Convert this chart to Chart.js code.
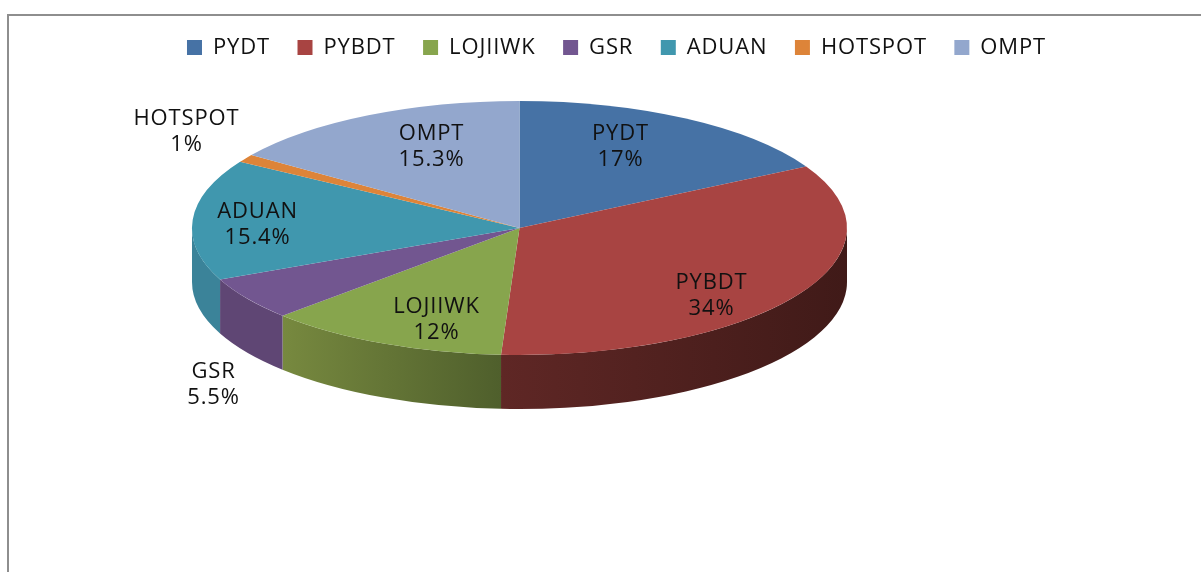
<!DOCTYPE html>
<html>
<head>
<meta charset="utf-8">
<script src="https://cdn.jsdelivr.net/npm/chart.js@4"></script>
<style>
html, body { margin: 0; padding: 0; background: #fff; overflow: hidden; }
#frame { position: absolute; left: 7px; top: 14px; width: 1194px; height: 558px; border-left: 2px solid #8e8e8e; border-top: 2px solid #8e8e8e; box-sizing: border-box; }
#pie { position: absolute; left: 0; top: 0; }
</style>
</head>
<body>
<div id="frame"></div>
<canvas id="pie" width="1201" height="572"></canvas>
<script>
const categories = ['PYDT', 'PYBDT', 'LOJIIWK', 'GSR', 'ADUAN', 'HOTSPOT', 'OMPT']
const shares = [17, 34, 12, 5.5, 15.4, 1, 15.3]

const topColors = ['#4672a5', '#a84442', '#87a54d', '#725690', '#4097ae', '#dd8439', '#93a7cd']
// left and right end of the side wall gradient
const wallColors = [
    ['#345579', '#2a4563'],
    ['#5f2725', '#401a18'],
    ['#77893f', '#4f5f2c'],
    ['#5f4674', '#5f4674'],
    ['#3b8399', '#3b8399'],
    ['#a8642b', '#a8642b'],
    ['#7080a0', '#7080a0']
]
// label centres, relative to the pie centre
const labelOffsets = [[101, -81], [192, 68], [-83, 92], [-306, 157], [-262, -3], [-333, -96], [-88, -81]]

const FONT = '"Open Sans", sans-serif'
const FONT_SIZE = 22
const pieX = 519.5
const pieY = 228
const flatten = 127 / 327.5
const depth = 54

const tilted_pie = {
    id: 'tiltedPie',
    beforeUpdate(chart) {
        // the text in the picture is stretched sideways
        chart.ctx.letterSpacing = '0.85px'
    },
    beforeDatasetsDraw(chart) {
        const ctx = chart.ctx
        const arcs = chart.getDatasetMeta(0).data
        // only the front half of the rim can be seen
        arcs.forEach((arc, i) => {
            const from = Math.max(arc.startAngle, 0)
            const to = Math.min(arc.endAngle, Math.PI)
            if (to <= from) return
            const rx = arc.outerRadius
            const ry = rx * flatten
            const grad = ctx.createLinearGradient(pieX + rx * Math.cos(from), 0, pieX + rx * Math.cos(to), 0)
            grad.addColorStop(0, wallColors[i][1])
            grad.addColorStop(1, wallColors[i][0])
            ctx.beginPath()
            ctx.ellipse(pieX, pieY, rx, ry, 0, from, to)
            ctx.ellipse(pieX, pieY + depth, rx, ry, 0, to, from, true)
            ctx.closePath()
            ctx.fillStyle = grad
            ctx.fill()
        })
        const first = arcs[0]
        ctx.save()
        ctx.translate(pieX, pieY)
        ctx.scale(1, flatten)
        ctx.translate(-first.x, -first.y)
    },
    afterDatasetsDraw(chart) {
        const ctx = chart.ctx
        ctx.restore()
        ctx.save()
        ctx.fillStyle = '#111'
        ctx.font = FONT_SIZE + 'px ' + FONT
        ctx.textAlign = 'center'
        ctx.textBaseline = 'middle'
        categories.forEach((name, i) => {
            const x = pieX + labelOffsets[i][0]
            const y = pieY + labelOffsets[i][1]
            ctx.fillText(name, x, y - 13)
            ctx.fillText(shares[i] + '%', x, y + 13)
        })
        ctx.restore()
    }
}

new Chart(document.getElementById('pie'), {
    type: 'pie',
    data: {
        labels: categories,
        datasets: [{
            data: shares,
            backgroundColor: topColors,
            borderWidth: 0,
            radius: 327.5,
            clip: false
        }]
    },
    options: {
        responsive: false,
        animation: false,
        layout: {padding: {left: 32, top: 9}},
        plugins: {
            tooltip: {enabled: false},
            legend: {
                position: 'top',
                labels: {
                    boxWidth: 15,
                    boxHeight: 15,
                    padding: 27.5,
                    color: '#111',
                    font: {family: FONT, size: FONT_SIZE}
                }
            }
        }
    },
    plugins: [tilted_pie]
})
</script>
</body>
</html>
